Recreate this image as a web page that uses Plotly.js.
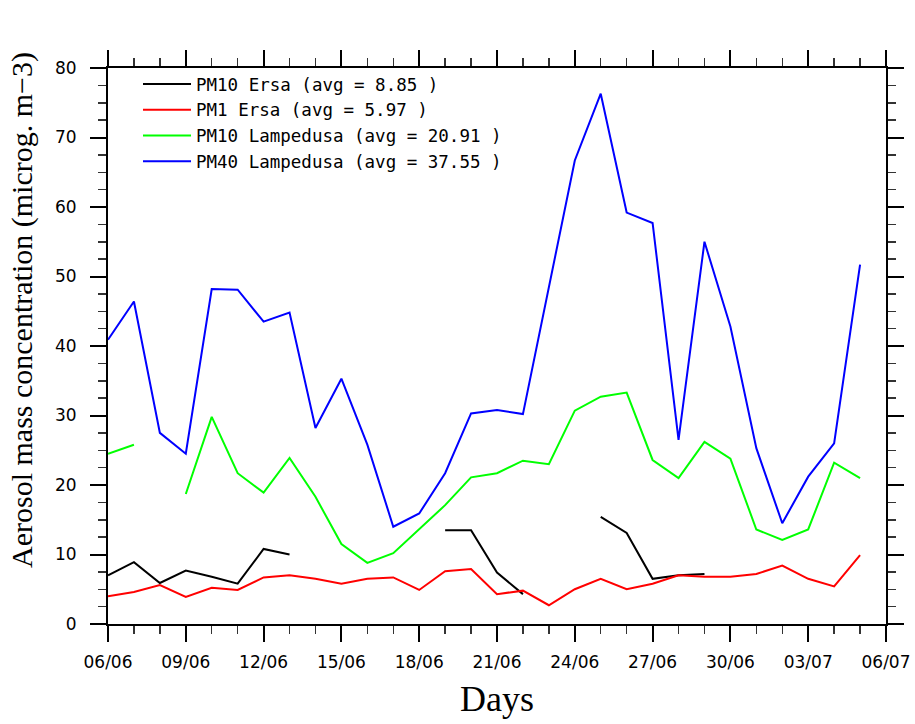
<!DOCTYPE html>
<html>
<head>
<meta charset="utf-8">
<script src="https://cdn.plot.ly/plotly-3.0.1.min.js"></script>
<style>
html,body{margin:0;padding:0;background:#fff;}
#chart{width:915px;height:724px;}
</style>
</head>
<body>
<div id="chart"></div>
<script>
const days = ['2013-06-06','2013-06-07','2013-06-08','2013-06-09','2013-06-10','2013-06-11','2013-06-12','2013-06-13','2013-06-14','2013-06-15',
              '2013-06-16','2013-06-17','2013-06-18','2013-06-19','2013-06-20','2013-06-21','2013-06-22','2013-06-23','2013-06-24','2013-06-25',
              '2013-06-26','2013-06-27','2013-06-28','2013-06-29','2013-06-30','2013-07-01','2013-07-02','2013-07-03','2013-07-04','2013-07-05'];

const pm10Ersa = [7.0, 8.9, 5.9, 7.7, 6.8, 5.8, 10.8, 10.0, null, null,
                  null, null, null, 13.5, 13.5, 7.4, 4.3, null, null, 15.4,
                  13.1, 6.5, 7.0, 7.2, null, null, null, null, null, null];

const pm1Ersa = [4.0, 4.6, 5.6, 3.9, 5.2, 4.9, 6.7, 7.0, 6.5, 5.8,
                 6.5, 6.7, 4.9, 7.6, 7.9, 4.3, 4.8, 2.7, 5.0, 6.5,
                 5.0, 5.8, 7.0, 6.8, 6.8, 7.2, 8.4, 6.5, 5.4, 9.9];

const pm10Lampedusa = [24.5, 25.8, null, 18.7, 29.8, 21.7, 18.9, 23.9, 18.3, 11.5,
                       8.8, 10.2, 13.6, 17.1, 21.1, 21.7, 23.5, 23.0, 30.7, 32.7,
                       33.3, 23.6, 21.0, 26.2, 23.8, 13.6, 12.1, 13.6, 23.2, 21.0];

const pm40Lampedusa = [40.9, 46.4, 27.5, 24.5, 48.2, 48.1, 43.5, 44.8, 28.2, 35.3,
                       25.8, 14.0, 15.9, 21.7, 30.3, 30.8, 30.2, 48.4, 66.7, 76.3,
                       59.2, 57.7, 26.5, 55.0, 42.8, 25.3, 14.5, 21.2, 26.0, 51.7];

const seriesNames = ['PM10 Ersa (avg = 8.85 )', 'PM1 Ersa (avg = 5.97 )',
                     'PM10 Lampedusa (avg = 20.91 )', 'PM40 Lampedusa (avg = 37.55 )'];
const seriesColors = ['#000000', '#ff0000', '#00ff00', '#0000ff'];
const seriesValues = [pm10Ersa, pm1Ersa, pm10Lampedusa, pm40Lampedusa];

const xTitle = 'Days';
const yTitle = 'Aerosol mass concentration (microg. m\u22123)';

const traces = seriesValues.map((vals, i) => ({
  x: days, y: vals, type: 'scatter', mode: 'lines', name: seriesNames[i],
  connectgaps: false,
  line: {color: seriesColors[i], width: 2}
}));

const tickFont = {family: 'DejaVu Sans', size: 17, color: '#000'};
const titleFamily = 'Liberation Serif';
const DAY = 86400000;

const layout = {
  width: 915, height: 724,
  margin: {l: 108, r: 29, t: 68, b: 100, pad: 0},
  paper_bgcolor: '#fff', plot_bgcolor: '#fff',
  showlegend: true,
  legend: {
    x: (138 - 108) / 778, y: 1 - (66 - 68) / 556, xanchor: 'left', yanchor: 'top',
    bgcolor: 'rgba(0,0,0,0)', borderwidth: 0,
    font: {family: 'DejaVu Sans Mono', size: 17.5, color: '#000'},
    itemwidth: 48, tracegroupgap: 0
  },
  xaxis: {
    type: 'date',
    range: ['2013-06-06', '2013-07-06'],
    tick0: '2013-06-06', dtick: 3 * DAY, tickformat: '%d/%m',
    showgrid: false, zeroline: false,
    showline: true, linecolor: '#000', linewidth: 2, mirror: 'ticks',
    ticks: 'outside', ticklen: 16, tickwidth: 2, tickcolor: '#000',
    minor: {dtick: DAY, tick0: '2013-06-06', ticklen: 8, tickwidth: 1.5, tickcolor: '#333', ticks: 'outside', showgrid: false},
    tickfont: tickFont, ticklabelstandoff: 6
  },
  yaxis: {
    range: [0, 80], dtick: 10, tick0: 0,
    showgrid: false, zeroline: false,
    showline: true, linecolor: '#000', linewidth: 2, mirror: 'ticks',
    ticks: 'outside', ticklen: 16, tickwidth: 2, tickcolor: '#000',
    minor: {dtick: 2.5, ticklen: 8, tickwidth: 1.5, tickcolor: '#333', ticks: 'outside', showgrid: false},
    tickfont: tickFont, ticklabelstandoff: 10
  },
  annotations: [
    {text: xTitle, xref: 'paper', yref: 'paper', x: 0.5, y: -(699 - 624) / 556,
     xanchor: 'center', yanchor: 'middle', showarrow: false,
     font: {family: titleFamily, size: 36, color: '#000'}},
    {text: yTitle, xref: 'paper', yref: 'paper', x: (22 - 108) / 778, y: (624 - 310) / 556,
     xanchor: 'center', yanchor: 'middle', textangle: -90, showarrow: false,
     font: {family: titleFamily, size: 30, color: '#000'}}
  ]
};

Plotly.newPlot('chart', traces, layout, {displayModeBar: false, staticPlot: true});
</script>
</body>
</html>
